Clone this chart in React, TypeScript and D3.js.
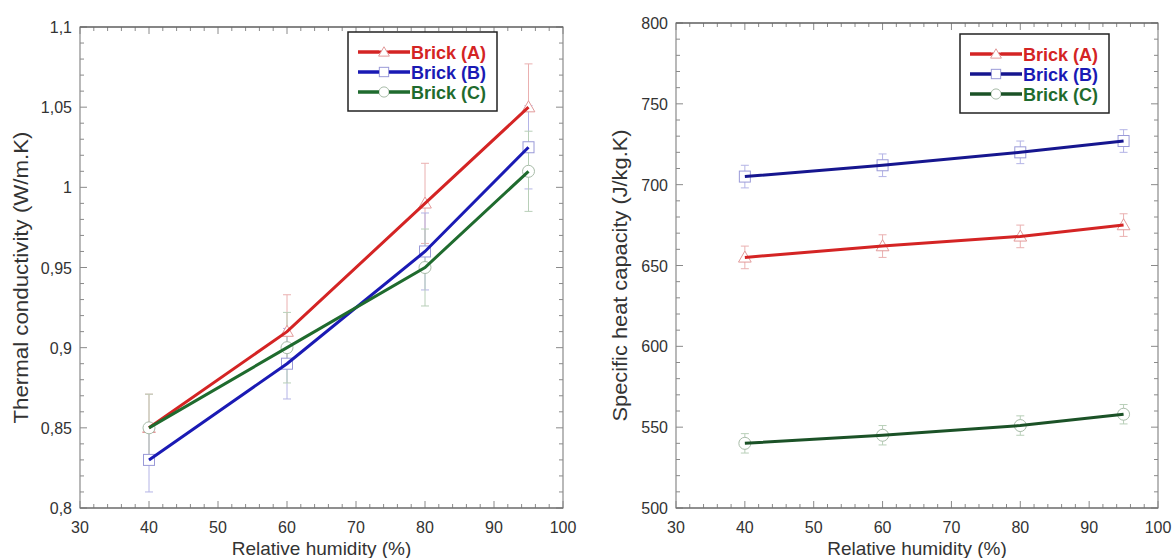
import React from 'react'
import * as d3 from 'd3'

// relative humidity (%)
const humidity = [40, 60, 80, 95]
const seriesNames = ['Brick (A)', 'Brick (B)', 'Brick (C)']

// thermal conductivity (W/m.K)
const condA = [0.85, 0.91, 0.99, 1.05]
const condB = [0.83, 0.89, 0.96, 1.025]
const condC = [0.85, 0.9, 0.95, 1.01]
const condErrA = [0.021, 0.023, 0.025, 0.027]
const condErrB = [0.02, 0.022, 0.024, 0.026]
const condErrC = [0.021, 0.022, 0.024, 0.025]

// specific heat capacity (J/kg.K)
const heatA = [655, 662, 668, 675]
const heatB = [705, 712, 720, 727]
const heatC = [540, 545, 551, 558]
const heatErrA = [7, 7, 7, 7]
const heatErrB = [7, 7, 7, 7]
const heatErrC = [6, 6, 6, 6]

const xTicks = [30, 40, 50, 60, 70, 80, 90, 100]
const condTicks = [0.8, 0.85, 0.9, 0.95, 1, 1.05, 1.1]
const heatTicks = [500, 550, 600, 650, 700, 750, 800]

const colors = ['#d42424', '#1a1ab4', '#1f6b2e']
const errColors = ['#eab0b0', '#b4b4e6', '#b8cfb8']
const markerStroke = ['#e29a9a', '#9a9ad8', '#a8bca8']
const shapes = ['triangle', 'square', 'circle']

const font = 'Liberation Sans, Arial, sans-serif'
const comma = (v: number) => String(+v.toFixed(3)).replace('.', ',')

function Marker({shape, x, y, stroke, size = 1}: any) {
    if (shape === 'triangle') {
        const p = d3.symbol(d3.symbolTriangle, 70 * size * size)()
        return <path d={p as string} transform={`translate(${x},${y + 1})`} fill="white" stroke={stroke} strokeWidth={1} />
    }
    if (shape === 'square') {
        const h = 5.5 * size
        return <rect x={x - h} y={y - h} width={2 * h} height={2 * h} fill="white" stroke={stroke} strokeWidth={1} />
    }
    return <circle cx={x} cy={y} r={6 * size} fill="white" stroke={stroke} strokeWidth={1} />
}

function Panel({left, right, top, bottom, yDomain, yTicks, yMinor, values, errs, yTitle, titleX, legend, lineColors}: any) {
    const x = d3.scaleLinear().domain([30, 100]).range([left, right])
    const y = d3.scaleLinear().domain(yDomain).range([bottom, top])
    const xMinor = d3.range(30, 100.01, 2)
    const yMin = d3.range(yDomain[0], yDomain[1] + yMinor / 2, yMinor)
    const line = d3.line<number>().x((d, i) => x(humidity[i])).y(d => y(d))
    const frame = '#8a8a8a'

    return (
        <g fontFamily={font}>
            {/* inward ticks on all four sides */}
            {xMinor.map((v, i) => {
                const major = xTicks.includes(Math.round(v))
                const len = major ? 7 : 4
                return (
                    <g key={'xt' + i} stroke={frame} strokeWidth={1}>
                        <line x1={x(v)} x2={x(v)} y1={bottom} y2={bottom - len} />
                        <line x1={x(v)} x2={x(v)} y1={top} y2={top + len} />
                    </g>
                )
            })}
            {yMin.map((v, i) => {
                const major = yTicks.some((t: number) => Math.abs(t - v) < yMinor / 10)
                const len = major ? 7 : 4
                return (
                    <g key={'yt' + i} stroke={frame} strokeWidth={1}>
                        <line x1={left} x2={left + len} y1={y(v)} y2={y(v)} />
                        <line x1={right} x2={right - len} y1={y(v)} y2={y(v)} />
                    </g>
                )
            })}
            <rect x={left} y={top} width={right - left} height={bottom - top} fill="none" stroke={frame} strokeWidth={1.2} />
            <line x1={left} x2={right} y1={top} y2={top} stroke="#555" strokeWidth={1.2} />
            <line x1={left} x2={right} y1={bottom} y2={bottom} stroke="#666" strokeWidth={1.2} />

            {xTicks.map(v => (
                <text key={'xl' + v} x={x(v)} y={bottom + 25} textAnchor="middle" fontSize={16} fill="#333">{v}</text>
            ))}
            {yTicks.map((v: number) => (
                <text key={'yl' + v} x={left - 8} y={y(v) + 6} textAnchor="end" fontSize={16} fill="#333">{comma(v)}</text>
            ))}
            <text x={(left + right) / 2} y={bottom + 47} textAnchor="middle" fontSize={19} fill="#333">Relative humidity (%)</text>
            <text transform={`translate(${titleX},${(top + bottom) / 2 + 10}) rotate(-90)`} textAnchor="middle"
                fontSize={20} textLength={292} lengthAdjust="spacingAndGlyphs" fill="#333">{yTitle}</text>

            {/* error bars */}
            {values.map((s: number[], k: number) => s.map((v, i) => (
                <g key={'e' + k + i} stroke={errColors[k]} strokeWidth={1}>
                    <line x1={x(humidity[i])} x2={x(humidity[i])} y1={y(v - errs[k][i])} y2={y(v + errs[k][i])} />
                    <line x1={x(humidity[i]) - 4} x2={x(humidity[i]) + 4} y1={y(v - errs[k][i])} y2={y(v - errs[k][i])} />
                    <line x1={x(humidity[i]) - 4} x2={x(humidity[i]) + 4} y1={y(v + errs[k][i])} y2={y(v + errs[k][i])} />
                </g>
            )))}
            {values.map((s: number[], k: number) => s.map((v, i) => (
                <Marker key={'m' + k + i} shape={shapes[k]} x={x(humidity[i])} y={y(v)} stroke={markerStroke[k]} />
            )))}
            {values.map((s: number[], k: number) => (
                <path key={'l' + k} d={line(s) as string} fill="none" stroke={lineColors[k]} strokeWidth={3} />
            ))}

            {/* legend */}
            <rect x={legend.x} y={legend.y} width={149} height={79} fill="white" stroke="#222" strokeWidth={1.5} />
            {seriesNames.map((n, k) => {
                const ly = legend.y + 20 + k * 20
                return (
                    <g key={'lg' + k}>
                        <line x1={legend.x + 10} x2={legend.x + 62} y1={ly} y2={ly} stroke={lineColors[k]} strokeWidth={3} />
                        <Marker shape={shapes[k]} x={legend.x + 36} y={ly} stroke={markerStroke[k]} size={0.85} />
                        <line x1={legend.x + 10} x2={legend.x + 31} y1={ly} y2={ly} stroke={lineColors[k]} strokeWidth={3} />
                        <line x1={legend.x + 41} x2={legend.x + 62} y1={ly} y2={ly} stroke={lineColors[k]} strokeWidth={3} />
                        <text x={legend.x + 63} y={ly + 6.5} fontSize={18} fontWeight="bold" fill={colors[k]}>{n}</text>
                    </g>
                )
            })}
        </g>
    )
}

export default function App() {
    return (
        <svg width={1174} height={558} style={{position: 'absolute', left: 0, top: 0, background: 'white'}}>
            <Panel left={80} right={563} top={27} bottom={508}
                yDomain={[0.8, 1.1]} yTicks={condTicks} yMinor={0.01}
                values={[condA, condB, condC]} errs={[condErrA, condErrB, condErrC]}
                yTitle="Thermal conductivity (W/m.K)" titleX={28} legend={{x: 348, y: 32}}
                lineColors={colors} />
            <Panel left={676} right={1158} top={23} bottom={508}
                yDomain={[500, 800]} yTicks={heatTicks} yMinor={10}
                values={[heatA, heatB, heatC]} errs={[heatErrA, heatErrB, heatErrC]}
                yTitle="Specific heat capacity (J/kg.K)" titleX={627} legend={{x: 960, y: 34}}
                lineColors={['#d42424', '#16168f', '#1b5227']} />
        </svg>
    )
}
